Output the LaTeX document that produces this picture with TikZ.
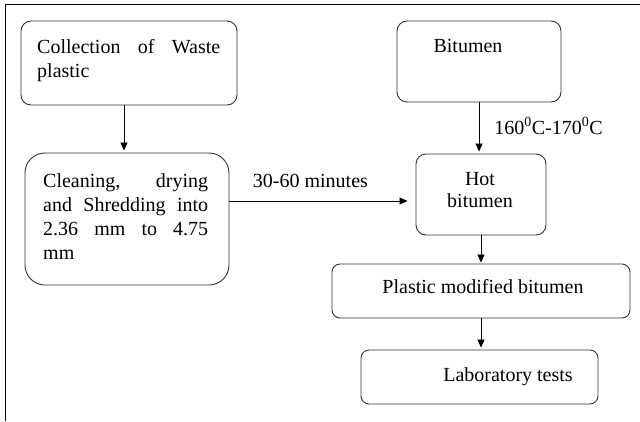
\documentclass[tikz,border=0pt]{standalone}
\usepackage{fontspec}
\setmainfont{Liberation Serif}
\usetikzlibrary{arrows.meta}

\begin{document}
\begin{tikzpicture}[
    x=1pt, y=-1pt,
    box/.style={draw=black!80, line width=0.9pt, rounded corners=10pt, inner sep=0pt},
    txt/.style={inner sep=0pt, font=\fontsize{20}{24.3}\selectfont},
    flow/.style={-{Triangle[length=8pt,width=7pt]}, line width=0.8pt, color=black},
    lbl/.style={inner sep=0pt, font=\fontsize{20}{24}\selectfont},
    frame/.style={line width=1pt, color=black}
]
\useasboundingbox (0,0) rectangle (640,421);

% Outer frame (only top and left edge visible)
\draw[frame] (5.5,421) -- (5.5,4.5) -- (640,4.5);

% Boxes
\node[box, minimum width=216pt, minimum height=84pt] (collect) at (129,63) {};
\node[box, minimum width=204pt, minimum height=132pt, rounded corners=20pt] (clean) at (127,219) {};
\node[box, minimum width=164pt, minimum height=81pt] (bitumen) at (479,61.5) {};
\node[box, minimum width=130pt, minimum height=81pt] (hot) at (481,194.5) {};
\node[box, minimum width=298pt, minimum height=54pt, rounded corners=8pt] (pmb) at (481,291) {};
\node[box, minimum width=237pt, minimum height=54pt, rounded corners=8pt] (lab) at (479.5,377) {};

% Box texts
\node[txt, text width=183pt, align=justify, anchor=base west] (collecttxt) at (37,53) {Collection of Waste\linebreak plastic};
\node[txt, text width=165pt, align=justify, anchor=base west] (cleantxt) at (43,187) {Cleaning, drying\linebreak and Shredding into\linebreak 2.36 mm to 4.75\linebreak mm};
\node[txt, anchor=base] (bitumentxt) at (468,52) {Bitumen};
\node[txt, align=center, anchor=base] (hottxt) at (480,207) {Hot\\[-2.3pt]bitumen};
\node[txt, anchor=base] (pmbtxt) at (483,293) {Plastic modified bitumen};
\node[txt, anchor=base] (labtxt) at (508,381) {Laboratory tests};

% Connectors
\draw[flow, shorten >=2pt] ([xshift=-5pt]collect.south) -- ([xshift=-5pt]collect.south |- clean.north);
\draw[flow, shorten >=2pt] (bitumen.south) -- (bitumen.south |- hot.north)
    node[lbl, pos=0.62, anchor=base west, xshift=15pt] (templbl) {160\textsuperscript{0}C-170\textsuperscript{0}C};
\coordinate (cleanout) at ([yshift=18pt]clean.east);
\draw[flow, shorten >=8pt] (cleanout) -- (cleanout -| hot.west)
    node[lbl, pos=0.435, anchor=base, yshift=14pt] (timelbl) {30-60 minutes};
\draw[flow, shorten >=1pt] (hot.south) -- (hot.south |- pmb.north);
\draw[flow, shorten >=2pt] (pmb.south) -- (pmb.south |- lab.north);

\end{tikzpicture}
\end{document}
